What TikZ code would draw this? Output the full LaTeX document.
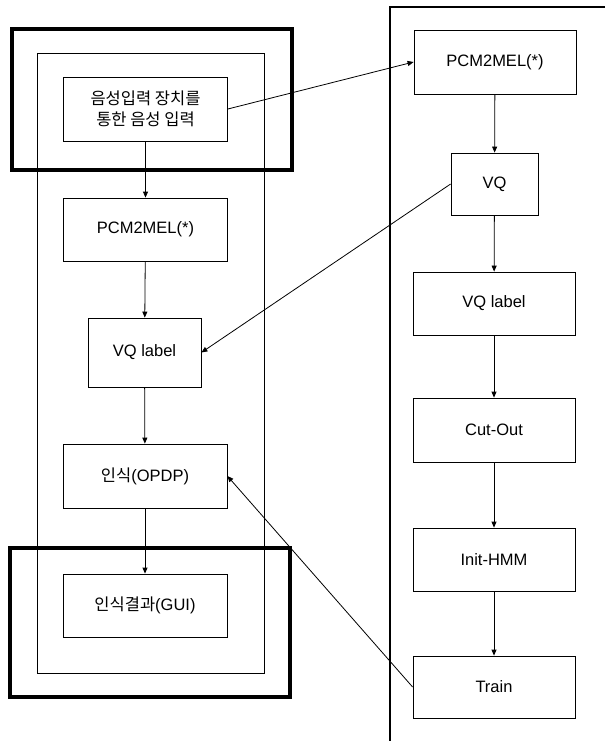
\documentclass[tikz,border=0pt]{standalone}
\usepackage{fontspec}
\setmainfont{Liberation Sans}
\newfontfamily\kr{Noto Sans CJK KR}
\usetikzlibrary{arrows.meta}
\begin{document}
\begin{tikzpicture}[x=1pt,y=-1pt,
  box/.style={draw,line width=0.8pt,inner sep=0pt,align=center,
    font=\fontsize{16.5}{20.5}\selectfont},
  wide/.style={box,minimum width=164pt},
  flow/.style={line width=0.8pt,-{Triangle[length=6pt,width=5pt]}},
  thickframe/.style={line width=4pt},
  thinframe/.style={line width=0.8pt}]
\useasboundingbox (0,0) rectangle (605,741);
% frames
\draw[thickframe] (12,29) rectangle (292,170);
\draw[thickframe] (10,548) rectangle (290,697);
\draw[thinframe] (37,53) rectangle (264,673);
\draw[line width=1.6pt] (605,7) -- (390,7) -- (390,741);
% left column
\node[wide,minimum height=64pt] (in1) at (145.5,109) {\kr 음성입력 장치를\\\kr 통한 음성 입력};
\node[wide,minimum height=63pt] (pcmL) at (145.5,229.5) {PCM2MEL(*)};
\node[box,minimum width=113pt,minimum height=69pt] (vqlL) at (144.5,352.5) {VQ label};
\node[wide,minimum height=64pt] (opdp) at (145,476) {{\kr 인식}(OPDP)};
\node[wide,minimum height=63pt] (gui) at (145,605.5) {{\kr 인식결과}(GUI)};
% right column
\node[box,minimum width=162pt,minimum height=64pt] (pcmR) at (495,62) {PCM2MEL(*)};
\node[box,minimum width=87pt,minimum height=62pt] (vq) at (494.5,184) {VQ};
\node[box,minimum width=162pt,minimum height=63pt] (vqlR) at (494,303.5) {VQ label};
\node[box,minimum width=162pt,minimum height=64pt] (cut) at (494,430) {Cut-Out};
\node[box,minimum width=162pt,minimum height=63pt] (init) at (494,559.5) {Init-HMM};
\node[box,minimum width=162pt,minimum height=62pt] (train) at (494,687) {Train};
% connectors
\draw[flow] (in1) -- (pcmL);
\draw[flow] (pcmL) -- (vqlL);
\draw[flow] (vqlL) -- (opdp);
\draw[flow] (opdp) -- (gui);
\draw[flow] (pcmR) -- (vq);
\draw[flow] (vq) -- (vqlR);
\draw[flow] (vqlR) -- (cut);
\draw[flow] (cut) -- (init);
\draw[flow] (init) -- (train);
\draw[flow] (in1.east) -- (pcmR.west);
\draw[flow] (vq.west) -- (vqlL.east);
\draw[flow] (train.west) -- (opdp.east);
\end{tikzpicture}
\end{document}
